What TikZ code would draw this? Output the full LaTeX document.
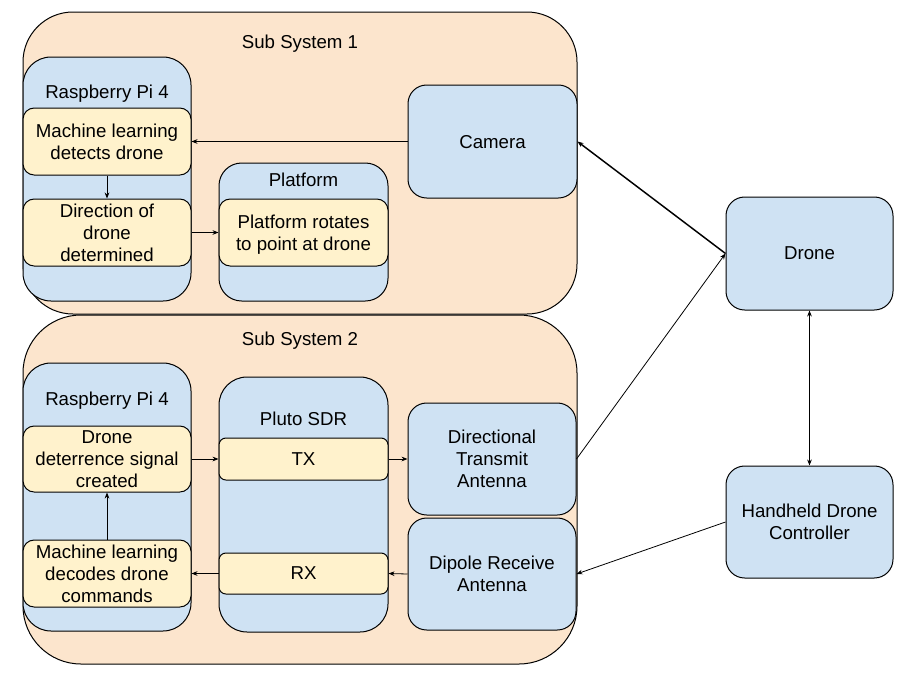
\documentclass[tikz,border=0pt]{standalone}
\usepackage{fontspec}
\setmainfont{Liberation Sans}
\usepackage{tikz}
\usetikzlibrary{arrows.meta}
\definecolor{sysfill}{HTML}{FCE5CD}
\definecolor{boxfill}{HTML}{CFE2F3}
\definecolor{stepfill}{HTML}{FFF2CC}
\tikzset{
	sysbox/.style={draw=black, line width=0.75pt, fill=sysfill, inner sep=0pt},
	unitbox/.style={draw=black, line width=0.75pt, fill=boxfill, inner sep=0pt, align=center, text depth=0pt},
	stepbox/.style={draw=black, line width=0.75pt, fill=stepfill, inner sep=0pt, align=center, text depth=0pt},
	txt/.style={inner sep=0pt, align=center},
	arr/.style={-{Stealth[length=4.5pt,width=3.5pt]}, line width=0.6pt},
	biarr/.style={{Stealth[length=4.5pt,width=3.5pt]}-{Stealth[length=4.5pt,width=3.5pt]}, line width=0.6pt}
}

\begin{document}
\begin{tikzpicture}[x=0.75pt,y=-0.75pt,font=\fontsize{14}{16.5}\selectfont]
		\useasboundingbox (0,0) rectangle (914,686);
		% sub systems
		\node[sysbox, minimum width=415.5pt, minimum height=226.5pt, rounded corners=37.5pt] (ssA) at (300,163) {};
		\node[sysbox, minimum width=415.5pt, minimum height=261.75pt, rounded corners=43.5pt] (ssB) at (300,489.5) {};
		\node[txt] (ssAlbl) at (300,43.5) {Sub System 1};
		\node[txt] (ssBlbl) at (300,340.5) {Sub System 2};
		% sub system 1
		\node[unitbox, minimum width=126pt, minimum height=183pt, rounded corners=21pt] (piA) at (107,179) {};
		\node[txt] (piAlbl) at (107,93.5) {Raspberry Pi 4};
		\node[unitbox, minimum width=126.75pt, minimum height=103.5pt, rounded corners=17pt] (plat) at (303.5,232) {};
		\node[txt] (platlbl) at (303.5,179.5) {Platform};
		\node[stepbox, minimum width=126pt, minimum height=50.25pt, rounded corners=8.4pt] (detect) at (107,141.5) {Machine learning\\detects drone};
		\node[stepbox, minimum width=126pt, minimum height=50.25pt, rounded corners=8.4pt] (direct) at (107,232.5) {Direction of\\drone\\determined};
		\node[stepbox, minimum width=126.75pt, minimum height=50.25pt, rounded corners=8.4pt] (rotate) at (303.5,232.5) {Platform rotates\\to point at drone};
		\node[unitbox, minimum width=126.75pt, minimum height=84.75pt, rounded corners=14pt] (camera) at (492.5,141.5) {Camera};
		% sub system 2
		\node[unitbox, minimum width=126pt, minimum height=201pt, rounded corners=21pt] (piB) at (107,497) {};
		\node[txt] (piBlbl) at (107,400.5) {Raspberry Pi 4};
		\node[unitbox, minimum width=126.75pt, minimum height=191.25pt, rounded corners=21pt] (pluto) at (303.5,504.5) {};
		\node[txt] (plutolbl) at (303.5,418.5) {Pluto SDR};
		\node[stepbox, minimum width=126pt, minimum height=49.5pt, rounded corners=8.4pt] (deter) at (107,459) {Drone\\deterrence signal\\created};
		\node[stepbox, minimum width=126pt, minimum height=50.25pt, rounded corners=8.4pt] (decode) at (107,573.5) {Machine learning\\decodes drone\\commands};
		\node[stepbox, minimum width=126.75pt, minimum height=31.5pt, rounded corners=5.2pt] (tx) at (303.5,459) {TX};
		\node[stepbox, minimum width=126.75pt, minimum height=30.75pt, rounded corners=5.2pt] (rx) at (303.5,573.5) {RX};
		\node[unitbox, minimum width=126pt, minimum height=84pt, rounded corners=14pt] (dirant) at (492,459) {Directional\\Transmit\\Antenna};
		\node[unitbox, minimum width=126pt, minimum height=84pt, rounded corners=14pt] (dipole) at (492,574) {Dipole Receive\\Antenna};
		% outside
		\node[unitbox, minimum width=125.25pt, minimum height=84.75pt, rounded corners=14pt] (drone) at (809.5,253.5) {Drone};
		\node[unitbox, minimum width=125.25pt, minimum height=84pt, rounded corners=14pt] (handheld) at (809.5,522) {Handheld Drone\\Controller};
		% connectors
		\draw[arr] (camera.west) -- (detect.east);
		\draw[arr] (detect.south) -- (direct.north);
		\draw[arr] (direct.east) -- (rotate.west);
		\draw[arr] (deter.east) -- (tx.west);
		\draw[arr] (tx.east) -- (dirant.west);
		\draw[arr] (dipole.west) -- (rx.east);
		\draw[arr] (rx.west) -- (decode.east);
		\draw[arr] (decode.north) -- (deter.south);
		\draw[arr, line width=1.1pt] (drone.west) -- (camera.east);
		\draw[arr] (dirant.east) -- (drone.west);
		\draw[arr] (handheld.west) -- (dipole.east);
		\draw[biarr] (drone.south) -- (handheld.north);
		\end{tikzpicture}
\end{document}
